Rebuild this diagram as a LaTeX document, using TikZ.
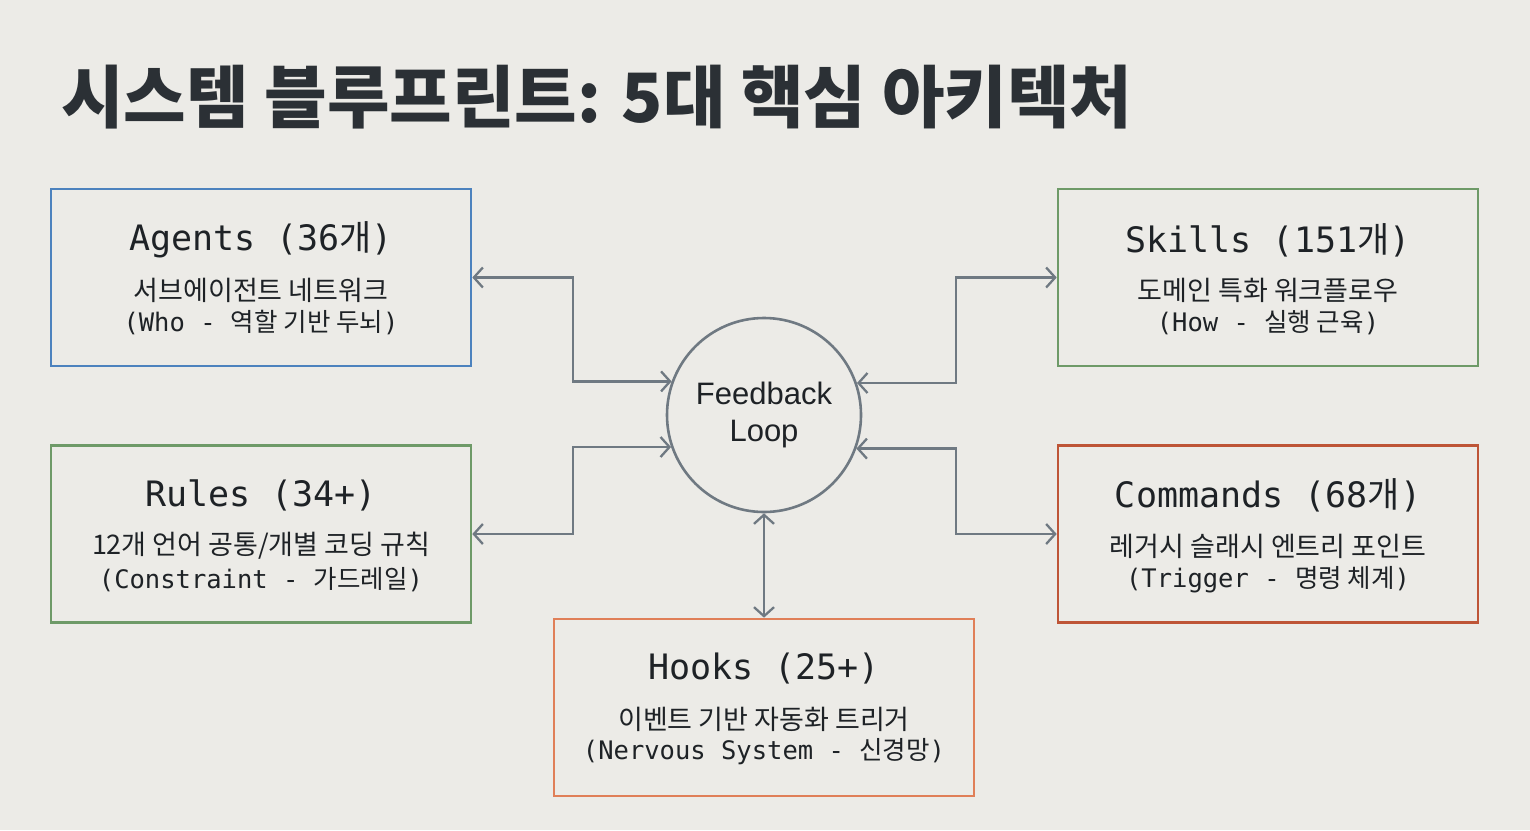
\documentclass[tikz,border=0pt]{standalone}
\usepackage{fontspec}
\usetikzlibrary{arrows.meta}
\setmainfont{DejaVu Sans Mono}
\newfontfamily\kr{Noto Sans CJK KR}
\newfontfamily\mn{DejaVu Sans Mono}
\newfontfamily\fbf{Liberation Sans}
\definecolor{bg}{HTML}{ECEBE7}
\definecolor{ink}{HTML}{1E2226}
\definecolor{ttl}{HTML}{2B3035}
\definecolor{cblue}{HTML}{4C82BE}
\definecolor{cgreen}{HTML}{6E9A68}
\definecolor{cred}{HTML}{BE5537}
\definecolor{corange}{HTML}{E07F58}
\definecolor{cgray}{HTML}{6F7982}
\tikzset{
  box/.style={draw, line width=2.6pt, minimum width=420pt, minimum height=177pt, inner sep=0pt},
  hd/.style={text=ink, font=\mn\fontsize{35}{38}\selectfont, inner sep=0pt},
  sub/.style={text=ink, font=\kr\fontsize{27}{30}\selectfont, inner sep=0pt},
  par/.style={text=ink, font=\mn\fontsize{25.5}{28}\selectfont, inner sep=0pt},
  conn/.style={draw=cgray, line width=2.3pt, {Straight Barb[length=9pt,width=20pt,line width=2.3pt]}-{Straight Barb[length=9pt,width=20pt,line width=2.3pt]}},
}
\newcommand{\K}[1]{{\kr #1}}
\begin{document}
\begin{tikzpicture}[x=1pt,y=-1pt]
\fill[bg] (0,0) rectangle (1530,830);
\useasboundingbox (0,0) rectangle (1530,830);
% title
\node[anchor=west, inner sep=0pt, text=ttl, font=\kr\bfseries\fontsize{68}{72}\selectfont] (title) at (61,97) {시스템 블루프린트: 5대 핵심 아키텍처};
% boxes
\node[box, draw=cblue] (agents) at (261,277.5) {};
\node[box, draw=cgreen] (skills) at (1268,277.5) {};
\node[box, draw=cgreen] (rules) at (261,534) {};
\node[box, draw=cred] (commands) at (1268,534) {};
\node[box, draw=corange] (hooks) at (764,707.5) {};
\node[circle, draw=cgray, line width=2.6pt, minimum size=194pt, inner sep=0pt, align=center, text=ink, font=\fbf\fontsize{31}{37}\selectfont] (fb) at (764,415) {Feedback\\Loop};
% texts
\node[hd] (agents1) at (261,240) {Agents (36\K{개})};
\node[sub] (agents2) at (261,290) {서브에이전트 네트워크};
\node[par] (agents3) at (261,323) {(Who - \K{역할 기반 두뇌})};
\node[hd] (skills1) at (1268,240) {Skills (151\K{개})};
\node[sub] (skills2) at (1268,290) {도메인 특화 워크플로우};
\node[par] (skills3) at (1268,323) {(How - \K{실행 근육})};
\node[hd] (rules1) at (261,495) {Rules (34+)};
\node[sub] (rules2) at (261,546) {12개 언어 공통/개별 코딩 규칙};
\node[par] (rules3) at (261,580) {(Constraint - \K{가드레일})};
\node[hd] (commands1) at (1268,495) {Commands (68\K{개})};
\node[sub] (commands2) at (1268,546) {레거시 슬래시 엔트리 포인트};
\node[par] (commands3) at (1268,580) {(Trigger - \K{명령 체계})};
\node[hd] (hooks1) at (764,668) {Hooks (25+)};
\node[sub] (hooks2) at (764,719) {이벤트 기반 자동화 트리거};
\node[par] (hooks3) at (764,752) {(Nervous System - \K{신경망})};
% connectors
\draw[conn] (agents.east) -- ++(101,0) |- (fb.160.5);
\draw[conn] (rules.east) -- ++(101,0) |- (fb.199.5);
\draw[conn] (skills.west) -- ++(-101,0) |- (fb.19.5);
\draw[conn] (commands.west) -- ++(-101,0) |- (fb.340.5);
\draw[conn] (fb.south) -- (hooks.north);
\end{tikzpicture}
\end{document}
